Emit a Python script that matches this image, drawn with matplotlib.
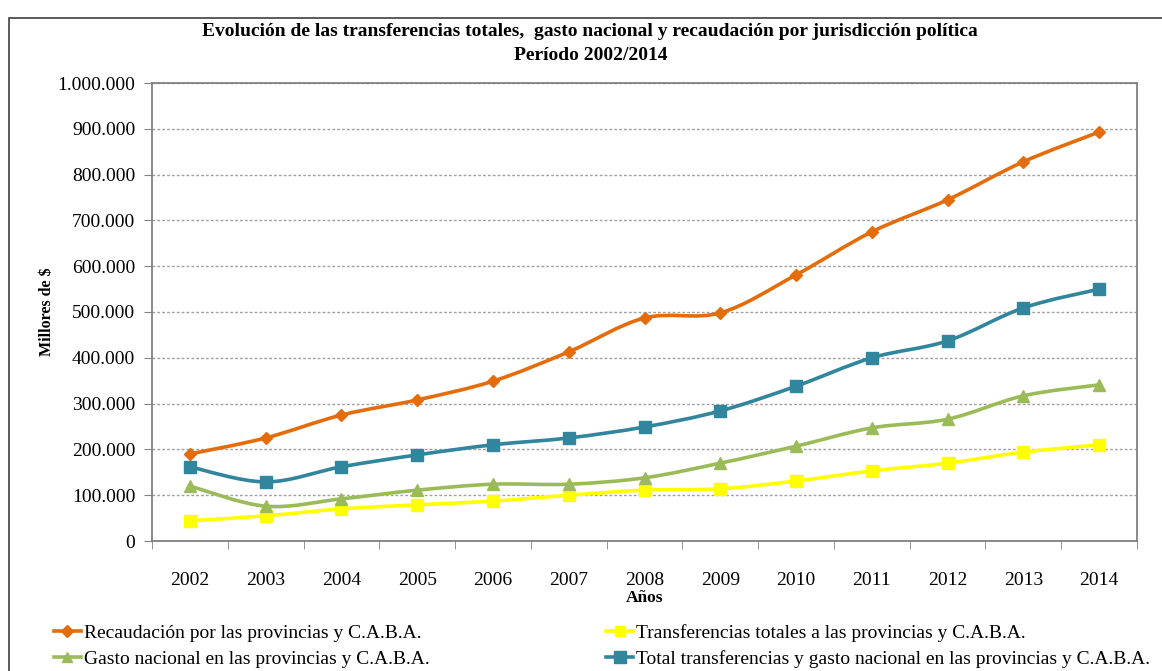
import numpy as np
import matplotlib.pyplot as plt
from matplotlib.path import Path
from matplotlib.patches import PathPatch, Rectangle
from matplotlib.lines import Line2D
from matplotlib.ticker import FuncFormatter, FixedLocator

plt.rcParams['font.family'] = ['Liberation Serif', 'DejaVu Serif']

years = ['2002', '2003', '2004', '2005', '2006', '2007', '2008',
         '2009', '2010', '2011', '2012', '2013', '2014']

# millones de $
recaudacion = [190000, 225000, 275000, 308000, 349000, 413000, 487000,
               498000, 581000, 675000, 745000, 828000, 893000]
transferencias = [44000, 55000, 70000, 79000, 87000, 100000, 111000,
                  114000, 131000, 153000, 170000, 194000, 210000]
gasto = [120000, 76000, 92000, 111000, 124000, 124000, 138000,
         170000, 207000, 247000, 266000, 317000, 341000]
total = [162000, 129000, 162000, 188000, 210000, 225000, 249000,
         284000, 338000, 400000, 437000, 509000, 550000]

lbl_rec = 'Recaudación por las provincias y C.A.B.A.'
lbl_tra = 'Transferencias totales a las provincias y C.A.B.A.'
lbl_gas = 'Gasto nacional en las provincias y C.A.B.A.'
lbl_tot = 'Total transferencias y gasto nacional en las provincias y C.A.B.A.'

c_rec = '#E46C0A'
c_tra = '#FFFF00'
c_gas = '#9BBB59'
c_tot = '#31859C'


def smooth_path(x, y):
    # excel-like smoothed line: catmull-rom segments as cubic beziers
    pts = np.column_stack([x, y]).astype(float)
    n = len(pts)
    verts = [pts[0]]
    codes = [Path.MOVETO]
    for i in range(n - 1):
        p0 = pts[i - 1] if i > 0 else pts[i]
        p1 = pts[i]
        p2 = pts[i + 1]
        p3 = pts[i + 2] if i + 2 < n else pts[i + 1]
        c1 = p1 + (p2 - p0) / 6.0
        c2 = p2 - (p3 - p1) / 6.0
        verts += [c1, c2, p2]
        codes += [Path.CURVE4] * 3
    return Path(verts, codes)


fig = plt.figure(figsize=(11.62, 6.71), dpi=100)

# chart frame
fig.patches.append(Rectangle((9 / 1162, -0.01), 1.1, 1 - 18 / 671 + 0.01,
                             transform=fig.transFigure, fill=False,
                             edgecolor='#404040', lw=1.2))

ax = fig.add_axes([152 / 1162, 1 - 541 / 671, 985 / 1162, 458 / 671])

x = np.arange(len(years))
series = [(recaudacion, c_rec, 'D', 6.5, lbl_rec),
          (transferencias, c_tra, 's', 8, lbl_tra),
          (gasto, c_gas, '^', 8, lbl_gas),
          (total, c_tot, 's', 9, lbl_tot)]

for vals, col, mk, ms, lbl in series:
    ax.add_patch(PathPatch(smooth_path(x, vals), fill=False, edgecolor=col,
                           lw=2.6, zorder=3))
    ax.plot(x, vals, linestyle='none', marker=mk, markersize=ms, color=col,
            markeredgecolor=col, zorder=4)

ax.set_xlim(-0.5, len(years) - 0.5)
ax.set_ylim(0, 1000000)
ax.set_yticks(np.arange(0, 1000001, 100000))
ax.yaxis.set_major_formatter(FuncFormatter(lambda v, p: f'{int(v):,}'.replace(',', '.')))
ax.set_xticks(x)
ax.set_xticklabels(years)
ax.xaxis.set_minor_locator(FixedLocator(np.arange(-0.5, len(years), 1.0)))
ax.tick_params(axis='x', which='major', length=0, pad=22, labelsize=14)
ax.tick_params(axis='x', which='minor', length=6, color='#808080')
ax.tick_params(axis='y', length=6, color='#808080', labelsize=14, pad=6)

ax.grid(axis='y', linestyle=(0, (2, 1.5)), color='#A0A0A0', lw=1)
ax.set_axisbelow(True)
for s in ax.spines.values():
    s.set_color('#808080')
    s.set_linewidth(1.3)

ax.set_ylabel('Millores de $', fontsize=11.5, fontweight='bold', labelpad=2)
ax.set_xlabel('Años', fontsize=12.5, fontweight='bold', labelpad=1)

fig.text(0.508, 1 - 32 / 671, 'Evolución de las transferencias totales,  gasto nacional y recaudación por jurisdicción política',
         ha='center', va='center', fontsize=14, fontweight='bold')
fig.text(0.508, 1 - 55 / 671, 'Período 2002/2014', ha='center', va='center',
         fontsize=14, fontweight='bold')

handles = [Line2D([], [], color=col, marker=mk, markersize=ms * 0.9, lw=2.6)
           for vals, col, mk, ms, lbl in series]
labels = [s[4] for s in series]
# order: column 1 = recaudacion, gasto ; column 2 = transferencias, total
order = [0, 2, 1, 3]
fig.legend([handles[i] for i in order], [labels[i] for i in order],
           ncol=2, loc='center left', bbox_to_anchor=(0.031, 1 - 646 / 671),
           frameon=False, fontsize=14, handlelength=1.4, handletextpad=0.15,
           columnspacing=9.1, labelspacing=0.45)

plt.savefig('out.png', dpi=100)
